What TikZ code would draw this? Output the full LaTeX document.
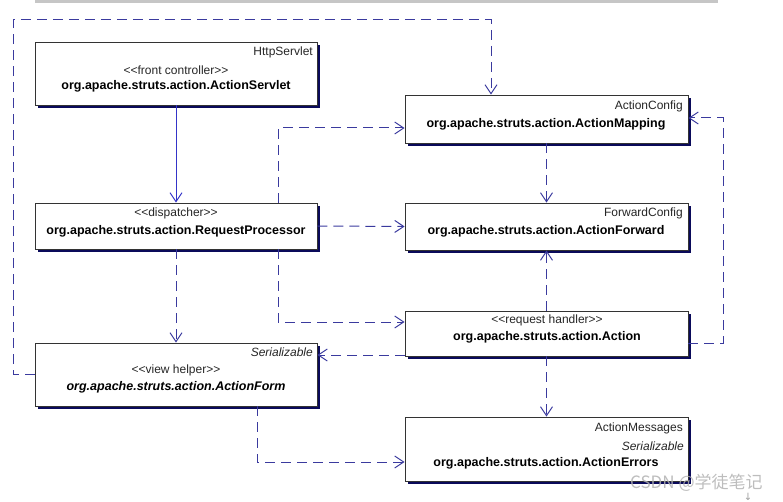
\documentclass[tikz,border=0pt]{standalone}
\usepackage{fontspec}
\setmainfont{Liberation Sans}
\newfontfamily\cjkfont{Noto Sans CJK SC}
\newfontfamily\symfont{DejaVu Sans}
\usetikzlibrary{arrows.meta,shadows}
\definecolor{lineblue}{HTML}{3A3A9E}
\definecolor{solidblue}{HTML}{3434C8}
\definecolor{shadownavy}{HTML}{0A0A5A}
\newcommand{\lsh}{<\kern0pt<}
\newcommand{\rsh}{>\kern0pt>}
\tikzset{
  umlbox/.style={draw=black!80, fill=white, line width=0.8pt, inner sep=0,
    drop shadow={shadow xshift=3pt, shadow yshift=-3pt, fill=shadownavy, opacity=1}},
  stereo/.style={inner sep=0, font=\fontsize{12}{14}\selectfont, text=black!85},
  cls/.style={inner sep=0, font=\fontsize{12.5}{14}\selectfont\bfseries},
  dasharr/.style={draw=lineblue, line width=1pt, dash pattern=on 10pt off 6pt,
    -{Straight Barb[length=9pt,width=12pt,line width=1pt]}},
  solidarr/.style={draw=solidblue, line width=1pt,
    -{Straight Barb[length=9pt,width=12pt,line width=1pt]}}
}
\begin{document}
\begin{tikzpicture}[x=1pt,y=-1pt]
\useasboundingbox (0,0) rectangle (783,502);
\fill[gray!45] (35,0) rectangle (718,3);

% boxes
\node[umlbox, minimum width=282pt, minimum height=63pt] (srv) at (176,73.5) {};
\node[umlbox, minimum width=283pt, minimum height=48pt] (map) at (546.5,119) {};
\node[umlbox, minimum width=282pt, minimum height=46pt] (rp) at (176,226) {};
\node[umlbox, minimum width=283pt, minimum height=47pt] (fwd) at (546.5,226.5) {};
\node[umlbox, minimum width=283pt, minimum height=45pt] (act) at (546.5,333.5) {};
\node[umlbox, minimum width=282pt, minimum height=63pt] (frm) at (176,374.5) {};
\node[umlbox, minimum width=283pt, minimum height=64pt] (err) at (546.5,449) {};

% texts
\node[stereo, anchor=east] (srvt1) at (313,52) {HttpServlet};
\node[stereo] (srvt2) at (176,70) {\lsh front controller\rsh};
\node[cls] (srvt3) at (176,86) {org.apache.struts.action.ActionServlet};

\node[stereo] (rpt1) at (176,213) {\lsh dispatcher\rsh};
\node[cls] (rpt2) at (176,231) {org.apache.struts.action.RequestProcessor};

\node[stereo, anchor=east] (mapt1) at (683,106) {ActionConfig};
\node[cls] (mapt2) at (546,124) {org.apache.struts.action.ActionMapping};

\node[stereo, anchor=east] (fwdt1) at (683,213.5) {ForwardConfig};
\node[cls] (fwdt2) at (546,231) {org.apache.struts.action.ActionForward};

\node[stereo] (actt1) at (547,320.5) {\lsh request handler\rsh};
\node[cls] (actt2) at (547,337.5) {org.apache.struts.action.Action};

\node[stereo, anchor=east, font=\fontsize{12}{14}\selectfont\itshape] (frmt1) at (313,352.5) {Serializable};
\node[stereo] (frmt2) at (176,370) {\lsh view helper\rsh};
\node[cls, font=\fontsize{12.5}{14}\selectfont\bfseries\itshape] (frmt3) at (176,387.5) {org.apache.struts.action.ActionForm};

\node[stereo, anchor=east] (errt1) at (683,428.5) {ActionMessages};
\node[stereo, anchor=east, font=\fontsize{12}{14}\selectfont\itshape] (errt2) at (684,446.5) {Serializable};
\node[cls] (errt3) at (546,463) {org.apache.struts.action.ActionErrors};

% bend coordinates
\coordinate (tl) at (13,20);
\coordinate (tr) at (491,20);
\coordinate (a1) at (278,128);
\coordinate (a2) at (278,322);
\coordinate (r1) at (723,343);
\coordinate (r2) at (723,118);
\coordinate (f1) at (0,355);
\coordinate (e1) at (257,462);

% connectors
\draw[solidarr] (srv.south) -- (rp.north);
\draw[dasharr] (frm.west) -- (frm.west -| tl) -- (tl) -- (tr) -- (map.north -| tr);
\draw[dasharr] (rp.north -| a1) -- (a1) -- (map.west |- a1);
\draw[dasharr] (rp.east) -- (fwd.west);
\draw[dasharr] (rp.south -| a2) -- (a2) -- (act.west |- a2);
\draw[dasharr] (rp.south) -- (frm.north);
\draw[dasharr] (map.south) -- (fwd.north);
\draw[dasharr] (act.north) -- (fwd.south);
\draw[dasharr] (act.east |- r1) -- (r1) -- (r2) -- (map.east |- r2);
\draw[dasharr] (act.west |- f1) -- (frm.east |- f1);
\draw[dasharr] (act.south) -- (err.north);
\draw[dasharr] (frm.south -| e1) -- (e1) -- (err.west |- e1);

% watermark
\node[inner sep=0, anchor=west, text=gray!60, opacity=0.85, font=\cjkfont\fontsize{17}{19}\selectfont] (wm) at (630,483) {CSDN @学徒笔记};
\node[inner sep=0, text=gray!75, font=\symfont\fontsize{10}{11}\selectfont] (wmarr) at (748,497) {↓};
\end{tikzpicture}
\end{document}
